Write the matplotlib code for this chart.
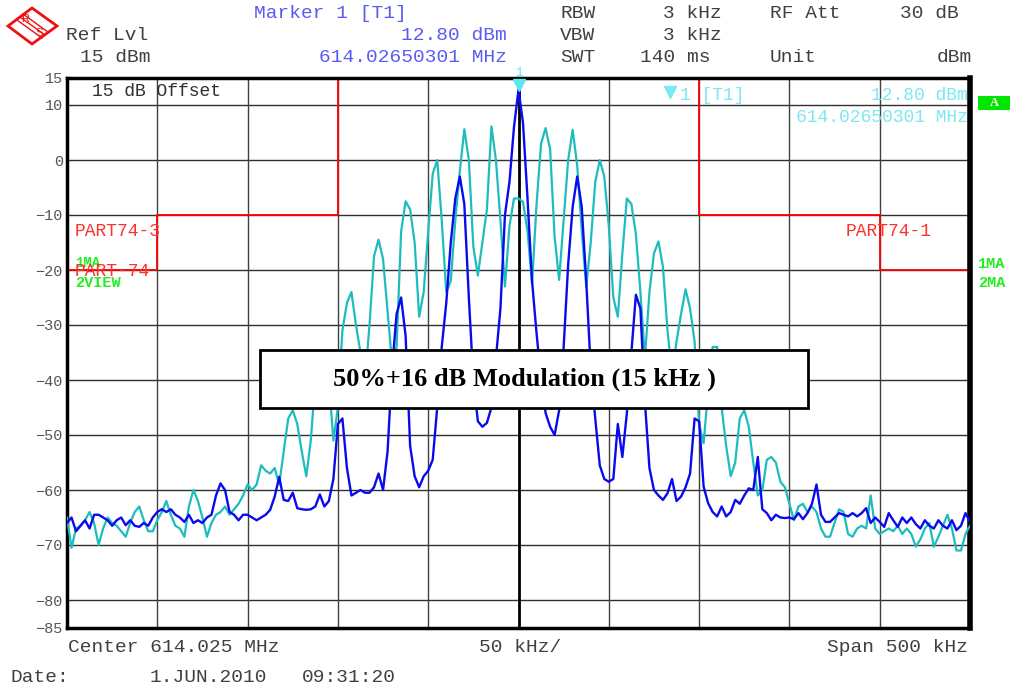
import matplotlib
matplotlib.use('Agg')
import matplotlib.pyplot as plt
import numpy as np
from matplotlib.patches import Rectangle, Polygon
from matplotlib.lines import Line2D

W, H = 1011, 689

# trace 2 (cyan, view) and trace 1 (blue, max hold), dBm, one value per 2.5 kHz bin
cyan_dbm = [
    -65, -70.5, -67, -66.5, -65.5, -64, -66, -70, -67, -65,
    -66, -66.5, -67.5, -68.5, -66, -64, -63, -65.5, -67.5, -67.5,
    -65.5, -64, -62, -64.5, -66.5, -67, -68.5, -63, -60, -62,
    -65, -68.5, -66, -64.5, -64, -63, -64.5, -63.5, -62.5, -61,
    -59, -60, -59, -55.5, -56.5, -57, -56, -59, -53, -47,
    -45.5, -48, -53, -57.5, -51, -40, -35, -36, -40, -51,
    -45, -31, -26, -24, -30, -35, -40, -30, -17.5, -14.5,
    -18, -27.5, -37, -34, -13, -7.5, -9, -15, -28.5, -24,
    -13, -2.5, 0, -11, -24, -22, -11, -2, 5.6, 0,
    -15.8, -21, -15, -9, 6.1, 0, -11, -23, -12, -7,
    -7,
    -7.6, -13, -22.5, -8, 3, 5.8, 2, -14, -21.8, -11,
    0, 5.5, -1, -12.7, -23, -15, -4, 0, -3, -12,
    -25, -28.5, -17, -7, -8, -13.5, -24, -36, -24, -17,
    -14.8, -19.5, -31, -39, -33, -28, -23.5, -27, -33, -48,
    -51.5, -42, -34, -34, -45, -52, -57.5, -55, -47, -45.5,
    -48.5, -55, -61, -60, -54.5, -54, -55, -58.5, -59.5, -62.5,
    -65.5, -63, -62.5, -64, -63, -64, -67, -68.5, -68.5, -66,
    -63.5, -64, -68, -68.5, -67, -66.5, -67, -61, -67, -68,
    -67.5, -67, -67.5, -66.5, -68, -67, -68, -70.3, -69, -67,
    -66, -70.3, -68.5, -66.5, -64.5, -67, -71, -71, -68, -66.5,
]

blue_dbm = [
    -66, -65, -67.5, -66.5, -65.5, -67, -64.5, -64.5, -65, -65.5,
    -66.5, -65.5, -65, -66.4, -65.5, -66.5, -66.7, -66, -66.5, -65,
    -64, -63.5, -64, -63.5, -64.5, -65, -65.8, -64.5, -66, -65.5,
    -66, -65, -64.5, -61, -58.8, -60, -64, -64.5, -65.5, -64.5,
    -64.5, -65, -65.5, -65, -64.5, -63.6, -61.2, -57.6, -61.8, -62,
    -60.5, -63.3, -63.5, -63.6, -63.5, -63, -60.8, -63, -62, -58,
    -48, -47, -56, -61, -60.5, -60, -60.5, -60.5, -59.5, -57,
    -60, -53, -38, -28, -25, -32, -52, -57.5, -59.5, -57.5,
    -56.5, -54.5, -45, -34, -26, -15, -7, -3, -8, -25,
    -40, -47.5, -48.5, -47.8, -45, -36, -27, -10, -4, 6,
    12.8,
    6.7, -7, -22, -31.5, -40, -46, -48.5, -50, -45.5, -34,
    -19, -8.5, -3, -8.5, -22, -38, -47, -55.5, -58, -58.5,
    -58, -48, -54, -46, -35, -24.5, -27, -44, -56, -60,
    -61, -61.8, -60.6, -58, -62, -61.2, -59.5, -57, -47, -47.5,
    -59.4, -62.4, -64, -64.8, -63, -64.8, -64, -61.8, -62.5, -61,
    -59.7, -60, -54, -63.5, -64.2, -65.5, -64.5, -65, -65.1, -65,
    -65.3, -64.2, -65.3, -64.2, -62.5, -59, -64.5, -65.8, -65.8, -65,
    -64.2, -64.5, -64.8, -64.2, -64.8, -64.2, -63.3, -66, -65, -65.8,
    -66.7, -64.2, -65.5, -66.7, -65, -66, -65, -66.2, -67, -65.5,
    -66.5, -67, -65.5, -66.5, -67, -65.5, -67.3, -66.5, -64.2, -65.8,
]

# limit line PART74 (kHz offset from centre, dBm)
limit_khz = [-250, -200, -200, -100, -100, 100, 100, 200, 200, 250]
limit_dbm = [-20, -20, -10, -10, 40, 40, -10, -10, -20, -20]

y_ticks = [15, 10, 0, -10, -20, -30, -40, -50, -60, -70, -80, -85]
y_grid = [10, 0, -10, -20, -30, -40, -50, -60, -70, -80]
x_grid = [-200, -150, -100, -50, 0, 50, 100, 150, 200]

MONO = 'Liberation Mono'


def fx(x):
    return x / W


def fy(y):
    return 1 - y / H


def label(x, y, s, color='#404040', ha='left', size=14, **kw):
    fig.text(fx(x), fy(y), s, color=color, ha=ha, va='center',
             family=MONO, fontsize=size, **kw)


fig = plt.figure(figsize=(W / 100, H / 100), dpi=100)
ax = fig.add_axes([fx(67), fy(627.5), (970 - 67) / W, 550 / H])

freq = np.linspace(-250, 250, len(cyan_dbm))

for g in y_grid:
    ax.axhline(g, color='#303030', lw=1.0, zorder=1)
for g in x_grid:
    ax.axvline(g, color='black' if g == 0 else '#404040',
               lw=2.0 if g == 0 else 1.0, zorder=1)

ax.plot(limit_khz, limit_dbm, color='#ff0000', lw=1.3, zorder=2)
ax.plot(freq, cyan_dbm, color='#1ebcbc', lw=1.6, zorder=3)
ax.plot(freq, blue_dbm, color='#0a0aee', lw=1.7, zorder=4)

ax.set_xlim(-250, 250)
ax.set_ylim(-85, 15)
ax.set_xticks([])
ax.set_yticks(y_ticks)
ax.set_yticklabels([str(t).replace('-', '\u2212') for t in y_ticks],
                   family=MONO, fontsize=11, color='#555555')
ax.tick_params(axis='y', length=0, pad=3)
for side in ['left', 'bottom', 'top']:
    ax.spines[side].set_linewidth(2.5)
ax.spines['right'].set_linewidth(4)

# marker on the centre peak
ax.plot([0], [13.6], marker='v', color='#5ce6f0', markersize=8,
        clip_on=False, zorder=5)
label(519, 73, '1', color='#5ce6f0', ha='center', size=9)

# header
label(254, 14, 'Marker 1 [T1]', color='#5a5af5')
label(66, 36, 'Ref Lvl')
label(507, 36, '12.80 dBm', color='#5a5af5', ha='right')
label(80, 58, '15 dBm')
label(507, 58, '614.02650301 MHz', color='#5a5af5', ha='right')
label(560, 14, 'RBW')
label(722, 14, '3 kHz', ha='right')
label(770, 14, 'RF Att')
label(959, 14, '30 dB', ha='right')
label(560, 36, 'VBW')
label(722, 36, '3 kHz', ha='right')
label(560, 58, 'SWT')
label(710, 58, '140 ms', ha='right')
label(770, 58, 'Unit')
label(972, 58, 'dBm', ha='right')

# inside the grid
label(92, 91, '15 dB Offset', color='#303030', size=13)
fig.add_artist(Line2D([fx(670)], [fy(92)], marker='v', color='#7ce8f0',
                      markersize=9, transform=fig.transFigure))
label(680, 96, '1 [T1]', color='#7ce8f0', size=13)
label(968, 95, '12.80 dBm', color='#7ce8f0', ha='right', size=13)
label(968, 117, '614.02650301 MHz', color='#7ce8f0', ha='right', size=13)
label(75, 232, 'PART74-3', color='#ff3030', size=13)
label(846, 232, 'PART74-1', color='#ff3030', size=13)
label(75, 263, '1MA', color='#22ee22', size=10, weight='bold')
label(75, 271, 'PART-74', color='#ff3030', size=13)
label(75, 283, '2VIEW', color='#22ee22', size=11, weight='bold')
label(978, 264, '1MA', color='#22ee22', size=11, weight='bold')
label(978, 283, '2MA', color='#22ee22', size=11, weight='bold')

fig.add_artist(Rectangle((fx(978), fy(110)), fx(32), 14 / H,
                         transform=fig.transFigure, fc='#00e600', ec='none'))
fig.text(fx(994), fy(103), 'A', color='white', ha='center', va='center',
         family='Liberation Serif', weight='bold', fontsize=9)

# caption box
fig.add_artist(Rectangle((fx(260), fy(408)), fx(548), 58 / H,
                         transform=fig.transFigure, fc='white', ec='black',
                         lw=2, zorder=5))
fig.text(fx(524), fy(379), '50%+16 dB Modulation (15 kHz )', ha='center',
         va='center', family='Liberation Serif', weight='bold', fontsize=19,
         zorder=6)

# footer
label(68, 647, 'Center 614.025 MHz')
label(520, 647, '50 kHz/', ha='center')
label(968, 647, 'Span 500 kHz', ha='right')
label(10, 678, 'Date:')
label(150, 678, '1.JUN.2010')
label(302, 678, '09:31:20')

# R&S logo
diamond = [(8, 26), (32, 8), (57, 26), (32, 44)]
fig.add_artist(Polygon([(fx(a), fy(b)) for a, b in diamond], closed=True,
                       transform=fig.transFigure, fc='white',
                       ec='#ee1111', lw=2))
for d in (-3, 0, 3):
    fig.add_artist(Line2D([fx(20 + d), fx(45 + d)], [fy(17 - d), fy(35 - d)],
                          color='#ee1111', lw=1, transform=fig.transFigure))
fig.text(fx(25), fy(19), 'R', color='#ee1111', ha='center', va='center',
         family='Liberation Sans', fontsize=8)
fig.text(fx(39), fy(33), 'S', color='#ee1111', ha='center', va='center',
         family='Liberation Sans', fontsize=8)

fig.savefig('out.png', dpi=100)
